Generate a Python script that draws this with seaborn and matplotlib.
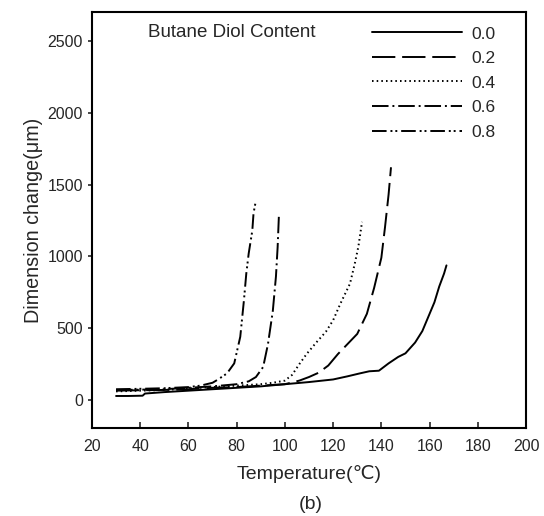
import pandas as pd
import seaborn as sns
import matplotlib.pyplot as plt

# butane diol content levels
levels = ["0.0", "0.2", "0.4", "0.6", "0.8"]

# temperature (C) and dimension change (um)
temp_00 = [30, 35, 41, 42, 50, 60, 70, 80, 90, 100, 110, 120, 126, 131, 135, 139, 143, 147, 150, 154, 157, 160, 162, 164, 166, 167]
dim_00 = [28, 28, 30, 45, 55, 65, 75, 85, 95, 110, 125, 143, 165, 185, 200, 204, 255, 300, 325, 400, 480, 600, 680, 790, 880, 937]

temp_02 = [30, 40, 50, 60, 70, 80, 90, 100, 106, 110, 114, 118, 122, 126, 130, 134, 137, 140, 141.5, 143, 144]
dim_02 = [65, 68, 70, 75, 85, 90, 100, 110, 135, 160, 190, 240, 320, 390, 460, 600, 780, 990, 1200, 1430, 1620]

temp_04 = [30, 40, 50, 60, 70, 80, 90, 95, 100, 103, 106, 109, 113, 117, 120, 123, 127, 129, 130.5, 132]
dim_04 = [60, 65, 70, 80, 90, 100, 110, 120, 135, 175, 250, 320, 400, 475, 555, 670, 810, 950, 1070, 1240]

temp_06 = [30, 40, 50, 60, 70, 80, 85, 88, 91, 93, 95, 96.3, 97, 97.5]
dim_06 = [70, 72, 75, 85, 95, 110, 130, 160, 230, 390, 620, 860, 1065, 1275]

temp_08 = [30, 40, 50, 60, 65, 70, 72, 76, 79, 81.5, 83, 84, 85, 86.5, 87, 88]
dim_08 = [75, 78, 82, 90, 100, 120, 140, 185, 255, 440, 690, 880, 1020, 1180, 1300, 1390]

x_ticks = [20, 40, 60, 80, 100, 120, 140, 160, 180, 200]
y_ticks = [0, 500, 1000, 1500, 2000, 2500]

temps = [temp_00, temp_02, temp_04, temp_06, temp_08]
dims = [dim_00, dim_02, dim_04, dim_06, dim_08]
frames = []
for lev, t, d in zip(levels, temps, dims):
    frames.append(pd.DataFrame({"Temperature": t, "Dimension": d, "content": lev}))
df = pd.concat(frames, ignore_index=True)

sns.set_style("ticks")
plt.rcParams["font.family"] = ["Liberation Sans", "DejaVu Sans"]

fig = plt.figure(figsize=(5.44, 5.16), dpi=100)
ax = fig.add_axes([0.169, 0.1705, 0.798, 0.806])

dash_styles = {
    "0.0": "",
    "0.2": (12, 3.5),
    "0.4": (0.8, 1.6),
    "0.6": (8.5, 2, 1, 2),
    "0.8": (7.5, 2, 1, 1.5, 1, 2),
}
sns.lineplot(data=df, x="Temperature", y="Dimension", style="content",
             dashes=dash_styles, color="black", linewidth=1.4,
             sort=False, estimator=None, ax=ax)

ax.set_xlim(20, 200)
ax.set_ylim(-195, 2700)
ax.set_xticks(x_ticks)
ax.set_yticks(y_ticks)
ax.tick_params(axis="x", direction="in", labelsize=11.5, length=4, width=1.2, pad=8)
ax.tick_params(axis="y", direction="out", labelsize=11.5, length=3, width=1.2)
for s in ax.spines.values():
    s.set_linewidth(1.5)
    s.set_color("black")

ax.set_xlabel("Temperature(℃)", fontsize=14, labelpad=8)
ax.set_ylabel("Dimension change(μm)", fontsize=14.2, labelpad=3)

handles, labels = ax.get_legend_handles_labels()
ax.legend(handles, labels, loc="upper left", bbox_to_anchor=(0.617, 0.995),
          frameon=False, fontsize=12.5, handlelength=5.2, handletextpad=0.5,
          labelspacing=0.54, borderaxespad=0.3)
ax.text(0.129, 0.95, "Butane Diol Content", transform=ax.transAxes,
        fontsize=13.5, va="center", ha="left")

fig.text(0.572, 0.022, "(b)", fontsize=14, ha="center", va="center")

plt.savefig("out.png", dpi=100)
